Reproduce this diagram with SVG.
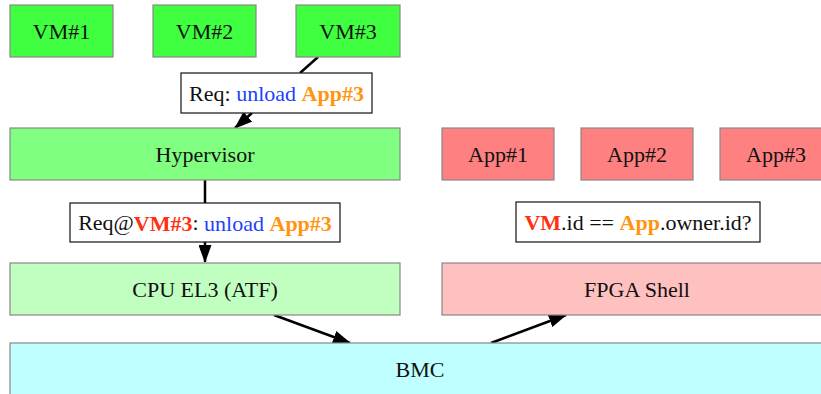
<svg xmlns="http://www.w3.org/2000/svg" width="821" height="394" viewBox="0 0 821 394">
<style>
  text { font-family: "Liberation Serif", "DejaVu Serif", serif; font-size: 22px; fill: #111; text-anchor: middle; dominant-baseline: central; }
  .node rect { stroke: #888; stroke-width: 1.2; }
  .vm rect { fill: #40ff40; }
  .hv rect { fill: #80ff80; }
  .app rect { fill: #ff8080; }
  .cpu rect { fill: #c0ffc0; }
  .fpga rect { fill: #ffc0c0; }
  .bmc rect { fill: #c0ffff; }
  .lbl rect { fill: #fff; stroke: #111; stroke-width: 1.2; }
  .edge { stroke: #000; stroke-width: 2.5; fill: none; }
  .red { fill: #ff3010; font-weight: bold; }
  .blue { fill: #2040ff; }
  .orange { fill: #ff9410; font-weight: bold; }
</style>
<defs>
  <marker id="arrow" markerWidth="18" markerHeight="13" refX="17" refY="6.5" orient="auto" markerUnits="userSpaceOnUse" viewBox="0 0 18 13">
    <path d="M0,0 L18,6.5 L0,13 Z" fill="#000"/>
  </marker>
</defs>

<g id="connectors">
  <line class="edge" x1="318" y1="57" x2="300" y2="73"/>
  <line class="edge" x1="252" y1="113" x2="235" y2="128" marker-end="url(#arrow)"/>
  <line class="edge" x1="205" y1="180" x2="205" y2="203"/>
  <line class="edge" x1="205" y1="242" x2="205" y2="262" marker-end="url(#arrow)"/>
  <line class="edge" x1="274" y1="315" x2="350" y2="343" marker-end="url(#arrow)"/>
  <line class="edge" x1="491" y1="343" x2="566" y2="315" marker-end="url(#arrow)"/>
</g>

<g id="vm1" class="node vm"><rect x="10" y="5" width="103" height="52"/><text x="61.5" y="31">VM#1</text></g>
<g id="vm2" class="node vm"><rect x="153" y="5" width="103" height="52"/><text x="204.5" y="31">VM#2</text></g>
<g id="vm3" class="node vm"><rect x="296" y="5" width="104" height="52"/><text x="348" y="31">VM#3</text></g>

<g id="hypervisor" class="node hv"><rect x="10" y="128" width="390" height="52"/><text x="205" y="154">Hypervisor</text></g>

<g id="app1" class="node app"><rect x="442" y="128" width="112" height="52"/><text x="498" y="154">App#1</text></g>
<g id="app2" class="node app"><rect x="581" y="128" width="112" height="52"/><text x="637" y="154">App#2</text></g>
<g id="app3" class="node app"><rect x="720" y="128" width="112" height="52"/><text x="776" y="154">App#3</text></g>

<g id="cpu" class="node cpu"><rect x="10" y="263" width="390" height="52"/><text x="205" y="289">CPU EL3 (ATF)</text></g>
<g id="fpga" class="node fpga"><rect x="442" y="263" width="390" height="52"/><text x="637" y="289">FPGA Shell</text></g>
<g id="bmc" class="node bmc"><rect x="10" y="343" width="830" height="60"/><text x="420" y="369">BMC</text></g>

<g id="label-req" class="lbl">
  <rect x="181" y="73" width="191" height="40"/>
  <text x="276.5" y="93">Req: <tspan class="blue">unload</tspan> <tspan class="orange">App#3</tspan></text>
</g>
<g id="label-req-vm" class="lbl">
  <rect x="70" y="203" width="270" height="39"/>
  <text x="205" y="222.5">Req@<tspan class="red">VM#3</tspan>: <tspan class="blue">unload</tspan> <tspan class="orange">App#3</tspan></text>
</g>
<g id="label-check" class="lbl">
  <rect x="516" y="202" width="244" height="40"/>
  <text x="638" y="222"><tspan class="red">VM</tspan>.id == <tspan class="orange">App</tspan>.owner.id?</text>
</g>
</svg>
